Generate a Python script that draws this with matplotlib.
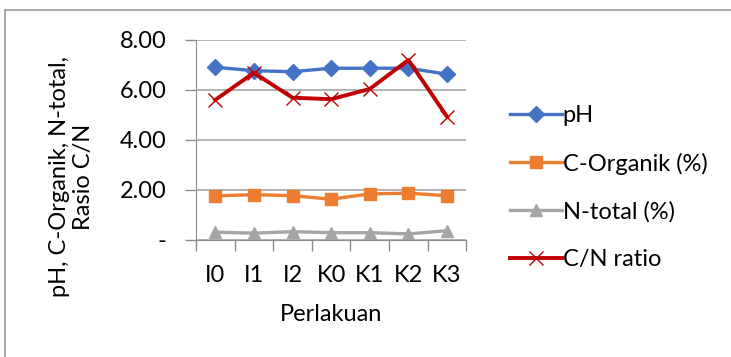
import matplotlib.pyplot as plt
from matplotlib.patches import Rectangle

plt.rcParams['font.family'] = ['Lato', 'DejaVu Sans']

perlakuan = ['I0', 'I1', 'I2', 'K0', 'K1', 'K2', 'K3']
ph = [6.91, 6.77, 6.73, 6.87, 6.87, 6.87, 6.63]
c_organik = [1.76, 1.81, 1.77, 1.63, 1.84, 1.87, 1.77]
n_total = [0.31, 0.27, 0.33, 0.29, 0.29, 0.24, 0.37]
cn_ratio = [5.60, 6.69, 5.69, 5.63, 6.04, 7.20, 4.93]
yticks = [0, 2, 4, 6, 8]
ytick_labels = ['-', '2.00', '4.00', '6.00', '8.00']

fs = 17

fig = plt.figure(figsize=(7.31, 3.57), dpi=100)
ax = fig.add_axes([0.268, 0.328, 0.370, 0.560])

# chart area border
fig.patches.append(Rectangle((5 / 731, -0.05), 1.0, 0.972 + 0.05,
                             transform=fig.transFigure, fill=False,
                             edgecolor='#9a9a9a', linewidth=1.2))

x = range(len(perlakuan))
ax.plot(x, ph, color='#4472C4', linewidth=2.4, marker='D', markersize=8,
        label='pH')
ax.plot(x, c_organik, color='#ED7D31', linewidth=2.4, marker='s', markersize=9,
        label='C-Organik (%)')
ax.plot(x, n_total, color='#A5A5A5', linewidth=2.4, marker='^', markersize=9,
        label='N-total (%)')
ax.plot(x, cn_ratio, color='#C00000', linewidth=2.8, marker='x', markersize=10,
        markeredgewidth=1.0, label='C/N ratio')

ax.set_xlim(-0.5, len(perlakuan) - 0.5)
ax.set_ylim(0, 8)
ax.set_yticks(yticks)
ax.set_yticklabels(ytick_labels)
ax.set_xticks(x)
ax.set_xticklabels(perlakuan)
ax.set_xticks([i - 0.5 for i in range(len(perlakuan) + 1)], minor=True)
ax.tick_params(axis='x', which='major', length=0, labelsize=fs, pad=18)
ax.tick_params(axis='x', which='minor', length=8, color='#8c8c8c', width=1)
ax.tick_params(axis='y', length=8, color='#8c8c8c', width=1, labelsize=fs,
               pad=13)

ax.grid(axis='y', color='#a6a6a6', linewidth=1.2)
ax.set_axisbelow(True)
for side in ['top', 'right']:
    ax.spines[side].set_visible(False)
ax.spines['left'].set_color('#8c8c8c')
ax.spines['bottom'].set_color('#8c8c8c')

ax.set_xlabel('Perlakuan', fontsize=fs, labelpad=13)
fig.text(0.098, 0.505, 'pH, C-Organik, N-total,\nRasio C/N', rotation=90,
         ha='center', va='center', multialignment='center', fontsize=fs)

fig.legend(loc='upper left', bbox_to_anchor=(0.668, 0.765), frameon=False,
           fontsize=fs, handlelength=2.2, handletextpad=0.05,
           labelspacing=1.12)

fig.savefig('out.png', dpi=100)
